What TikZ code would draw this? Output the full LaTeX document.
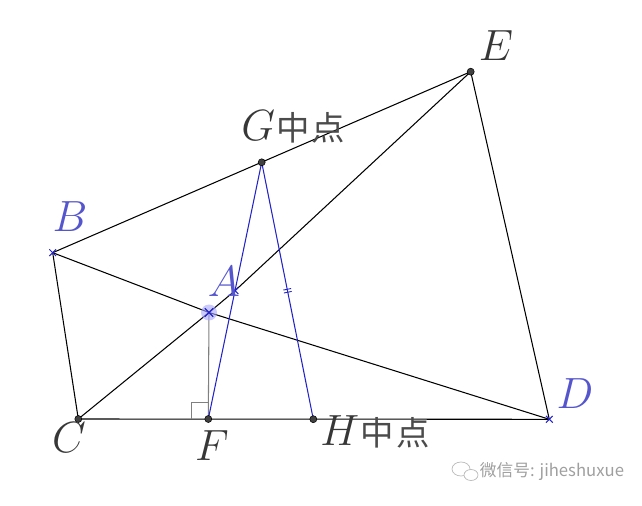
\documentclass[tikz,border=0pt]{standalone}
\usepackage{fontspec}
\newfontfamily\cjk{Noto Sans CJK SC}
\usetikzlibrary{shapes.misc,decorations.markings}
\definecolor{ptblue}{RGB}{85,85,205}
\definecolor{lnblue}{RGB}{35,35,200}
\definecolor{ptgray}{RGB}{65,65,65}
\definecolor{lblgray}{RGB}{55,55,55}
\definecolor{cjkgray}{RGB}{75,75,75}
\newcommand{\zhong}{\hspace{1pt}{\color{cjkgray}\cjk\fontsize{19}{21}\selectfont 中\hspace{1pt}点}}

\begin{document}
\begin{tikzpicture}[x=0.02cm,y=-0.02cm,
	pt/.style={circle, draw=black, fill=ptgray, line width=0.3pt, inner sep=0pt, minimum size=4pt},
	xpt/.style={cross out, draw=lnblue, line width=0.6pt, inner sep=0pt, minimum size=3.2pt},
	lbl/.style={text=lblgray, inner sep=0pt, font=\fontsize{23}{26}\selectfont},
	bluelbl/.style={lbl, text=ptblue},
	seg/.style={line width=0.6pt},
	blueseg/.style={seg, lnblue}]
	
	\useasboundingbox (0,0) rectangle (642,506);
	
	%Points
	\coordinate (E) at (470.7,71.7);
	\coordinate (G) at (261.7,162.3);
	\coordinate (B) at (52.7,252.7);
	\coordinate (A) at (235,290.7);
	\coordinate (P) at (209,312.5);
	\coordinate (C) at (78.3,419);
	\coordinate (F) at (208.3,419);
	\coordinate (H) at (313.3,419.2);
	\coordinate (D) at (549.3,419.3);
	
	%Links
	\draw[seg] (B) -- (E) -- (D) -- (C) -- (B);
	\draw[seg] (B) -- (P) -- (D);
	\draw[seg] (C) -- (P) -- (A) -- (E);
	\draw[seg, gray] (P) -- (F);
	\draw[gray, line width=0.4pt] (F) ++(-17,0) -- ++(0,-17) -- ++(17,0);
	\draw[blueseg] (G) -- (F);
	\draw[blueseg, postaction=decorate, decoration={markings, mark=at position 0.5 with
		{\draw[lnblue, line width=0.5pt] (-1.5,-4) -- (-1.5,4); \draw[lnblue, line width=0.5pt] (1.5,-4) -- (1.5,4);}}]
		(G) -- (H);
	
	%Marks on the points
	\fill[blue!35, opacity=0.6] (P) circle (0.16cm);
	\node[pt] (nE) at (E) {};
	\node[pt] (nG) at (G) {};
	\node[pt] (nC) at (C) {};
	\node[pt] (nF) at (F) {};
	\node[pt] (nH) at (H) {};
	\node[xpt] (nB) at (B) {};
	\node[xpt] (nA) at (A) {};
	\node[xpt] (nD) at (D) {};
	\node[xpt, minimum size=4pt, line width=0.8pt] (nP) at (P) {};
	
	%Names
	\node[lbl] (labE) at (496,46) {$E$};
	\node[lbl, anchor=west] (labG) at (241,127) {$G$\zhong};
	\node[bluelbl] (labB) at (70,217) {$B$};
	\node[bluelbl] (labA) at (224,282) {$A$};
	\node[lbl] (labC) at (69,438) {$C$};
	\node[lbl] (labF) at (212,446) {$F$};
	\node[lbl, anchor=west] (labH) at (320,432) {$H$\zhong};
	\node[bluelbl] (labD) at (575,394) {$D$};
	
	%Watermark
	\draw[gray!55, line width=0.4pt] (461,469) ellipse (9 and 7);
	\draw[gray!55, line width=0.4pt, fill=white] (471,475) ellipse (7 and 5.5);
	\node[text=gray!75, font=\cjk\fontsize{9.5}{11}\selectfont] (mark) at (552,472) {微信号: jiheshuxue};
\end{tikzpicture}
\end{document}
